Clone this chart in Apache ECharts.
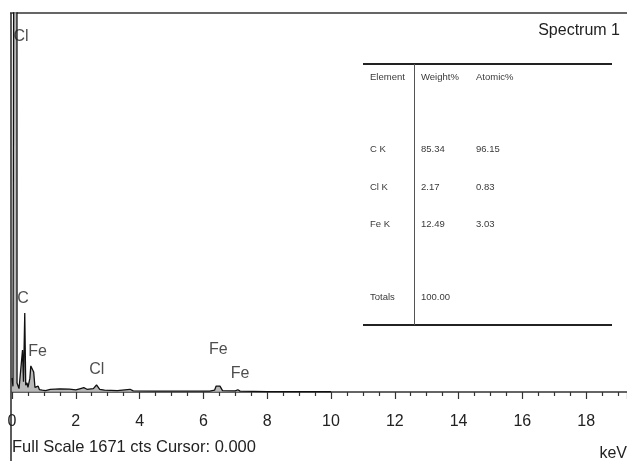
<!DOCTYPE html>
<html>
<head>
<meta charset="utf-8">
<script src="https://cdn.jsdelivr.net/npm/echarts@6/dist/echarts.min.js"></script>
<style>
  html, body { margin: 0; padding: 0; background: #fff; }
  #chart { width: 627px; height: 461px; }
</style>
</head>
<body>
<div id="chart"></div>
<script>
// EDS spectrum: energy (keV) and counts per channel
const energyKeV = [0.00, 0.03, 0.05, 0.060, 0.063, 0.155, 0.158, 0.22, 0.28, 0.33, 0.36, 0.40, 0.43,
  0.47, 0.50, 0.56, 0.59, 0.65, 0.68, 0.72, 0.78, 0.82, 0.86, 0.95, 1.05, 1.20, 1.50, 1.80,
  2.00, 2.15, 2.25, 2.35, 2.55, 2.65, 2.75, 2.90, 3.30, 3.70, 3.80, 4.50, 5.50, 6.20, 6.35,
  6.40, 6.52, 6.60, 7.00, 7.08, 7.15, 8.00, 10.00];
const counts = [62, 25, 20, 20, 2600, 2600, 40, 15, 20, 185, 45, 348, 30,
  40, 20, 60, 115, 112, 88, 20, 18, 26, 10, 8, 6, 12, 14, 13,
  9, 15, 19, 12, 15, 31, 12, 8, 6, 12, 5, 4, 4, 4, 8,
  26, 26, 6, 5, 10, 4, 2, 1];

// Peak identification labels: name, energy (keV), counts where the label sits
const peakNames = ['Cl', 'C', 'Fe', 'Cl', 'Fe', 'Fe'];
const peakKeV = [0.28, 0.345, 0.80, 2.66, 6.47, 7.15];
const peakCts = [1566, 410, 176, 97, 185, 82];

// Quantification table
const tableHeader = ['Element', 'Weight%', 'Atomic%'];
const elements = ['C K', 'Cl K', 'Fe K'];
const weightPct = ['85.34', '2.17', '12.49'];
const atomicPct = ['96.15', '0.83', '3.03'];
const totalWeight = '100.00';

// Axis settings
const fullScale = 1671;
const xTickStep = 2;
const xMaxKeV = 19.28;
const footerText = 'Full Scale 1671 cts Cursor: 0.000';
const unitText = 'keV';
const titleText = 'Spectrum 1';

const FONT = 'Liberation Sans, Arial, sans-serif';
const INK = '#222';

const chart = echarts.init(document.getElementById('chart'), null, { renderer: 'canvas' });

const spectrum = energyKeV.map((e, i) => [e, counts[i]]);
const peaks = peakNames.map((n, i) => [peakKeV[i], peakCts[i], n]);

// table layout
const colX = [370, 421, 476];
const rowY = [149, 187, 224];
const tableTexts = [];
tableHeader.forEach((h, i) => tableTexts.push({ x: colX[i], y: 77, text: h }));
elements.forEach((el, r) => {
  tableTexts.push({ x: colX[0], y: rowY[r], text: el });
  tableTexts.push({ x: colX[1], y: rowY[r], text: weightPct[r] });
  tableTexts.push({ x: colX[2], y: rowY[r], text: atomicPct[r] });
});
tableTexts.push({ x: colX[0], y: 297, text: 'Totals' });
tableTexts.push({ x: colX[1], y: 297, text: totalWeight });

function label(x, y, text, size, align) {
  return {
    type: 'text', x: x, y: y,
    style: { text: text, fontSize: size, fontFamily: FONT, fill: INK, align: align, verticalAlign: 'middle' }
  };
}

const graphics = [
  // frame
  { type: 'line', shape: { x1: 10, y1: 13, x2: 627, y2: 13 }, style: { stroke: '#333', lineWidth: 1.6 } },
  { type: 'line', shape: { x1: 11, y1: 13, x2: 11, y2: 461 }, style: { stroke: '#333', lineWidth: 1.6 } },
  // title
  label(620, 31, titleText, 16, 'right'),
  // footer
  label(12, 447, footerText, 16.5, 'left'),
  label(627, 454, unitText, 16, 'right'),
  // table rules
  { type: 'line', shape: { x1: 363, y1: 64, x2: 612, y2: 64 }, style: { stroke: '#222', lineWidth: 2 } },
  { type: 'line', shape: { x1: 363, y1: 325, x2: 612, y2: 325 }, style: { stroke: '#222', lineWidth: 2 } },
  { type: 'line', shape: { x1: 414.5, y1: 64, x2: 414.5, y2: 325 }, style: { stroke: '#555', lineWidth: 1 } }
];
tableTexts.forEach(t => graphics.push({
  type: 'text', x: t.x, y: t.y,
  style: { text: t.text, fontSize: 9.5, fontFamily: FONT, fill: '#3a3a3a', align: 'left', verticalAlign: 'middle' }
}));

chart.setOption({
  animation: false,
  backgroundColor: '#fff',
  grid: { left: 12, right: 0, top: 13, bottom: 69, containLabel: false },
  xAxis: {
    type: 'value',
    min: 0,
    max: xMaxKeV,
    interval: xTickStep,
    axisLine: { show: true, lineStyle: { color: '#333', width: 1.5 } },
    axisTick: { show: true, length: 7, lineStyle: { color: '#333', width: 1.2 } },
    minorTick: { show: true, splitNumber: 4, length: 4, lineStyle: { color: '#333', width: 1.2 } },
    splitLine: { show: false },
    minorSplitLine: { show: false },
    axisLabel: { fontSize: 16, fontFamily: FONT, color: INK, margin: 22, showMaxLabel: false }
  },
  yAxis: {
    type: 'value',
    min: 0,
    max: fullScale,
    show: false,
    splitLine: { show: false }
  },
  series: [
    {
      type: 'line',
      data: spectrum,
      symbol: 'none',
      clip: true,
      lineStyle: { color: '#111', width: 1.3 },
      areaStyle: { color: '#a8a8a8', opacity: 0.8 },
      z: 2
    },
    {
      type: 'scatter',
      data: peaks,
      symbolSize: 1,
      itemStyle: { color: 'transparent' },
      label: {
        show: true,
        position: 'inside',
        formatter: p => p.value[2],
        fontSize: 16,
        fontFamily: FONT,
        color: INK
      },
      z: 3
    }
  ],
  graphic: graphics
});
</script>
</body>
</html>
